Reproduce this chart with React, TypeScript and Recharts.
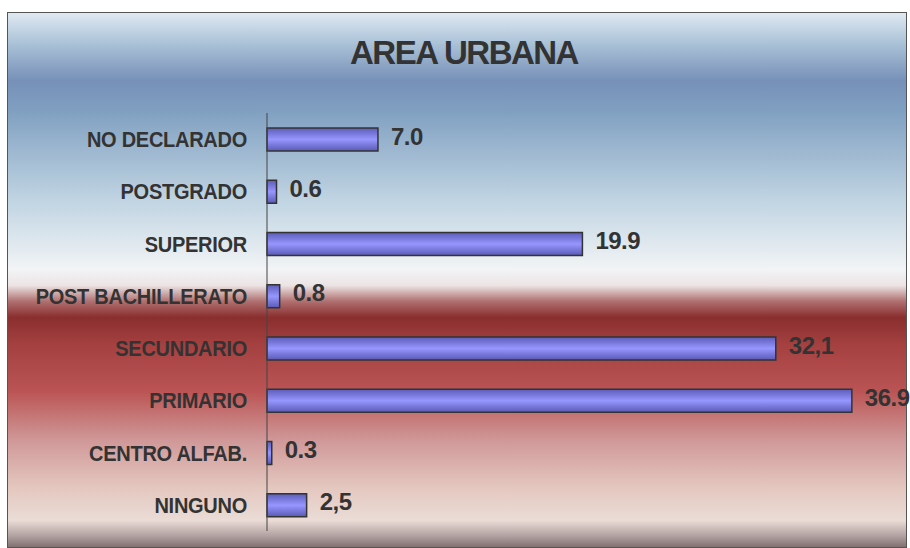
import { BarChart, Bar, XAxis, YAxis, LabelList } from 'recharts'

const categories = [
  'NO DECLARADO', 'POSTGRADO', 'SUPERIOR', 'POST BACHILLERATO',
  'SECUNDARIO', 'PRIMARIO', 'CENTRO ALFAB.', 'NINGUNO',
]
const values = [7.0, 0.6, 19.9, 0.8, 32.1, 36.9, 0.3, 2.5]
const valueLabels = ['7.0', '0.6', '19.9', '0.8', '32,1', '36.9', '0.3', '2,5']

const TEXT = '#333333'

const data = categories.map((name, i) => ({ name, value: values[i], label: valueLabels[i] }))

// narrow bold look: Liberation Sans squeezed horizontally
const CatTick = (props: any) => {
  const { x, y, payload } = props
  return (
    <text transform={`translate(${x},${y}) scale(0.91,1)`} x={0} y={0} dy={8} textAnchor="end" fill={TEXT}
      style={{ fontFamily: '"Liberation Sans", Arial, sans-serif', fontWeight: 700, fontSize: 22, letterSpacing: -0.3 }}>
      {payload.value}
    </text>
  )
}

const ValueLabel = (props: any) => {
  const { x, y, width, height, value } = props
  return (
    <text x={x + width + 13} y={y + height / 2} dy={5} fill={TEXT}
      style={{ fontFamily: '"Liberation Sans", Arial, sans-serif', fontWeight: 700, fontSize: 24, letterSpacing: -0.5 }}>
      {value}
    </text>
  )
}

export default function App() {
  return (
    <div style={{ position: 'absolute', left: 0, top: 0, width: 910, height: 548 }}>
      <div style={{
        position: 'absolute', left: 7, top: 12, width: 898, height: 534,
        border: '1px solid #555',
        background: 'linear-gradient(to bottom, #dfe9f2 0%, #a8c0d6 6%, #7790b8 12.7%, #7f9fc0 18%, #c0d4e2 35%, #f2f4f6 48%, #ece4e4 51%, #b07070 54%, #8a2e2e 57%, #a44040 62%, #bb5555 71%, #d09898 80%, #e4c8c0 89%, #eadcd6 95%, #b0a0a0 98%, #807070 100%)',
      }} />
      <div style={{
        position: 'absolute', left: 0, top: 34, width: 928, textAlign: 'center',
        fontFamily: '"Liberation Sans", Arial, sans-serif', fontWeight: 700, fontSize: 33,
        letterSpacing: -1.5, color: TEXT,
      }}>AREA URBANA</div>
      <div style={{ position: 'absolute', left: 0, top: 0 }}>
        <BarChart width={910} height={548} data={data} layout="vertical"
          margin={{ top: 113, right: 9, bottom: 17, left: 10 }}>
          <defs>
            <linearGradient id="barFill" x1="0" y1="0" x2="0" y2="1">
              <stop offset="0%" stopColor="#5c5cb8" />
              <stop offset="50%" stopColor="#9696ff" />
              <stop offset="100%" stopColor="#5a5ab4" />
            </linearGradient>
          </defs>
          <XAxis type="number" domain={[0, 40]} hide />
          <YAxis type="category" dataKey="name" width={257} stroke="#444"
            tickLine={false} tickSize={0} tickMargin={20} tick={<CatTick />} />
          <Bar dataKey="value" barSize={23} fill="url(#barFill)" stroke="#333" strokeWidth={1.5}
            isAnimationActive={false}>
            <LabelList dataKey="label" content={<ValueLabel />} />
          </Bar>
        </BarChart>
      </div>
    </div>
  )
}
